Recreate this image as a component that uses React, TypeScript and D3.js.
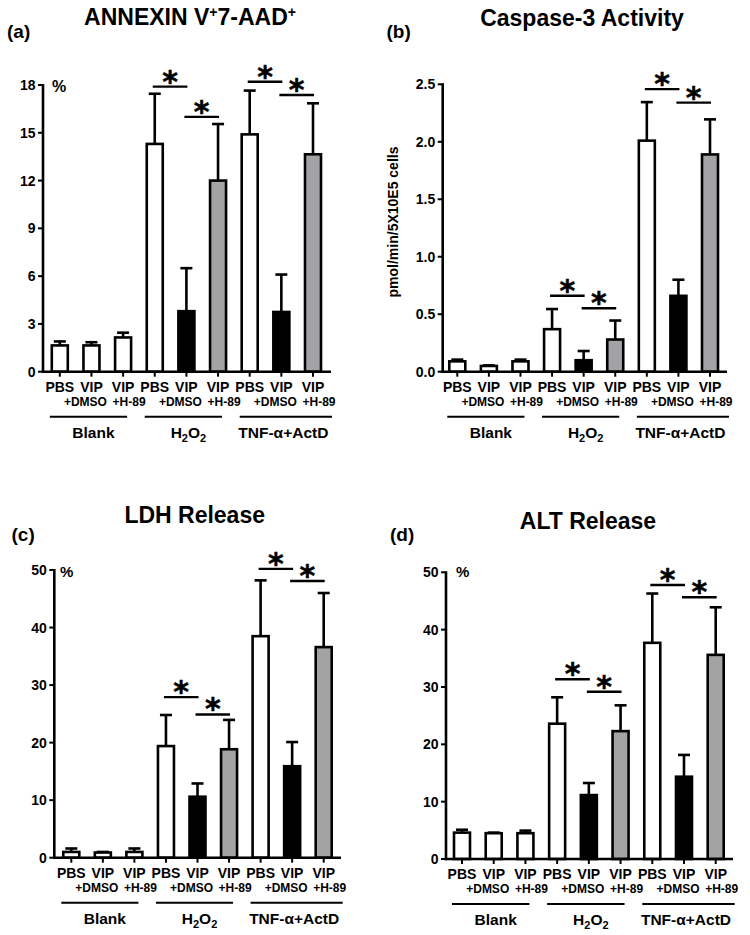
import React from 'react';
import * as d3 from 'd3';

// ---------- DATA ----------
const catLine1 = ['PBS', 'VIP', 'VIP', 'PBS', 'VIP', 'VIP', 'PBS', 'VIP', 'VIP'];
const catLine2 = ['', '+DMSO', '+H-89', '', '+DMSO', '+H-89', '', '+DMSO', '+H-89'];
const groupNames = ['Blank', 'H2O2', 'TNF-α+ActD'];
const treatment = ['PBS', 'VIP+DMSO', 'VIP+H-89', 'PBS', 'VIP+DMSO', 'VIP+H-89', 'PBS', 'VIP+DMSO', 'VIP+H-89'];
const groupOf = [0, 0, 0, 1, 1, 1, 2, 2, 2];

const annexinMean = [1.65, 1.65, 2.15, 14.3, 3.8, 12.0, 14.9, 3.75, 13.65];
const annexinErr = [0.25, 0.2, 0.3, 3.15, 2.7, 3.55, 2.75, 2.35, 3.2];
const caspaseMean = [0.09, 0.05, 0.09, 0.37, 0.1, 0.28, 2.01, 0.66, 1.89];
const caspaseErr = [0.015, 0.005, 0.015, 0.175, 0.08, 0.165, 0.335, 0.14, 0.305];
const ldhMean = [1.0, 0.9, 1.0, 19.4, 10.6, 18.85, 38.5, 15.9, 36.6];
const ldhErr = [0.6, 0.1, 0.6, 5.4, 2.3, 5.1, 9.7, 4.2, 9.4];
const altMean = [4.6, 4.5, 4.5, 23.6, 11.15, 22.3, 37.7, 14.35, 35.6];
const altErr = [0.5, 0.1, 0.45, 4.6, 2.1, 4.5, 8.6, 3.8, 8.3];

// significance brackets: [from index, to index, height in data units]
const annexinSig = [[3, 4, 17.9], [4, 5, 16.0], [6, 7, 18.2], [7, 8, 17.37]];
const caspaseSig = [[3, 4, 0.661], [4, 5, 0.552], [6, 7, 2.458], [7, 8, 2.341]];
const ldhSig = [[3, 4, 27.9], [4, 5, 24.9], [6, 7, 50.2], [7, 8, 48.1]];
const altSig = [[3, 4, 31.34], [4, 5, 29.18], [6, 7, 47.78], [7, 8, 45.64]];

const annexinTicks = [0, 3, 6, 9, 12, 15, 18];
const caspaseTicks = [0, 0.5, 1.0, 1.5, 2.0, 2.5];
const percentTicks = [0, 10, 20, 30, 40, 50];

// ---------- STYLE ----------
const FONT = '"Liberation Sans", Arial, sans-serif';
const STAR_FONT = '"DejaVu Sans", sans-serif';
const GRAY = '#a3a3a6';
const SW = 2.6;

function fillFor(i: number) {
  if (groupOf[i] === 0) return '#ffffff';
  if (treatment[i] === 'VIP+DMSO') return '#000000';
  if (treatment[i] === 'VIP+H-89') return GRAY;
  return '#ffffff';
}

type PanelCfg = {
  tag: string;
  title: React.ReactNode;
  titleX: number; titleY: number;
  tagX: number; tagY: number;
  axisX: number; y0: number; yTopPx: number; yMax: number;
  firstC: number; lastC: number; axisEnd: number;
  ticks: number[]; fmt: (v: number) => string;
  mean: number[]; err: number[]; sig: number[][];
  pct?: { x: number; y: number; size: number };
  yLabel?: { x: number; y: number; text: string };
};

function Panel({ c }: { c: PanelCfg }) {
  const y = d3.scaleLinear().domain([0, c.yMax]).range([c.y0, c.yTopPx]);
  const x = d3.scalePoint<number>().domain(d3.range(9)).range([c.firstC, c.lastC]).padding(0);
  const bw = 16;
  const cap = 12;
  const groupIdx = [0, 1, 2];
  return (
    <g>
      <text x={c.titleX} y={c.titleY} textAnchor="middle" fontFamily={FONT} fontWeight="bold" fontSize={23}>{c.title}</text>
      <text x={c.tagX} y={c.tagY} fontFamily={FONT} fontWeight="bold" fontSize={19}>{c.tag}</text>
      {c.pct && (
        <text x={c.pct.x} y={c.pct.y} fontFamily={FONT} fontWeight="bold" fontSize={c.pct.size}>%</text>
      )}
      {c.yLabel && (
        <text transform={`translate(${c.yLabel.x},${c.yLabel.y}) rotate(-90)`} textAnchor="middle" fontFamily={FONT} fontWeight="bold" fontSize={14}>{c.yLabel.text}</text>
      )}
      {/* error bars (upward only) */}
      {c.mean.map((m, i) => (
        <g key={'e' + i}>
          <line x1={x(i)} x2={x(i)} y1={y(m)} y2={y(m + c.err[i])} stroke="#000" strokeWidth={SW} />
          <line x1={(x(i) as number) - cap / 2} x2={(x(i) as number) + cap / 2} y1={y(m + c.err[i])} y2={y(m + c.err[i])} stroke="#000" strokeWidth={SW} />
        </g>
      ))}
      {/* bars */}
      {c.mean.map((m, i) => (
        <rect key={'b' + i} x={(x(i) as number) - bw / 2} y={y(m)} width={bw} height={c.y0 - y(m)} fill={fillFor(i)} stroke="#000" strokeWidth={SW} />
      ))}
      {/* y axis */}
      <line x1={c.axisX} x2={c.axisX} y1={c.y0 + SW / 2} y2={y(c.yMax) - 1} stroke="#000" strokeWidth={SW} />
      {c.ticks.map((t) => (
        <g key={'t' + t}>
          <line x1={c.axisX - 5} x2={c.axisX} y1={y(t)} y2={y(t)} stroke="#000" strokeWidth={2} />
          <text x={c.axisX - 7.5} y={y(t)} dy="0.36em" textAnchor="end" fontFamily={FONT} fontWeight="bold" fontSize={14}>{c.fmt(t)}</text>
        </g>
      ))}
      {/* x axis */}
      <line x1={c.axisX - SW / 2} x2={c.axisEnd} y1={c.y0} y2={c.y0} stroke="#000" strokeWidth={SW} />
      {c.mean.map((_, i) => (
        <line key={'xt' + i} x1={x(i)} x2={x(i)} y1={c.y0} y2={c.y0 + 5} stroke="#000" strokeWidth={2} />
      ))}
      {catLine1.map((l, i) => (
        <g key={'xl' + i}>
          <text x={x(i)} y={c.y0 + 20} textAnchor="middle" fontFamily={FONT} fontWeight="bold" fontSize={14}>{l}</text>
          {catLine2[i] && (
            <text x={(x(i) as number) + (catLine2[i] === '+DMSO' ? -6 : 6)} y={c.y0 + 34} textAnchor="middle" fontFamily={FONT} fontWeight="bold" fontSize={12}>{catLine2[i]}</text>
          )}
        </g>
      ))}
      {/* group lines and labels */}
      {groupIdx.map((g) => {
        const idx = d3.range(9).filter((i) => groupOf[i] === g);
        const x1 = (x(idx[0]) as number) - 10;
        const x2 = (x(idx[idx.length - 1]) as number) + (g === 2 ? 19 : 4);
        const cx = d3.mean(idx.map((i) => x(i) as number)) as number;
        return (
          <g key={'g' + g}>
            <line x1={x1} x2={x2} y1={c.y0 + 45} y2={c.y0 + 45} stroke="#000" strokeWidth={2} />
            <text x={cx + 2} y={c.y0 + 66} textAnchor="middle" fontFamily={FONT} fontWeight="bold" fontSize={15.5}>
              {groupNames[g] === 'H2O2' ? (
                <>
                  H<tspan fontSize={11} dy={4}>2</tspan><tspan dy={-4}>O</tspan><tspan fontSize={11} dy={4}>2</tspan>
                </>
              ) : groupNames[g]}
            </text>
          </g>
        );
      })}
      {/* significance brackets */}
      {c.sig.map(([a, b, h], k) => {
        const xa = (x(a) as number) - 2;
        const xb = (x(b) as number) + 1;
        return (
          <g key={'s' + k}>
            <line x1={xa} x2={xb} y1={y(h)} y2={y(h)} stroke="#000" strokeWidth={2.4} />
            <text x={(xa + xb) / 2} y={y(h) + 5} textAnchor="middle" fontFamily={STAR_FONT} fontWeight="bold" fontSize={30} stroke="#000" strokeWidth={0.5}>*</text>
          </g>
        );
      })}
    </g>
  );
}

const sup = (s: string) => <tspan fontSize={14} dy={-8}>{s}</tspan>;

export default function App() {
  const panels: PanelCfg[] = [
    {
      tag: '(a)',
      title: (<>ANNEXIN V{sup('+')}<tspan dy={8}>7-AAD</tspan>{sup('+')}</>),
      titleX: 190, titleY: 25, tagX: 7, tagY: 38,
      axisX: 43, y0: 371.7, yTopPx: 85, yMax: 18,
      firstC: 59.8, lastC: 313, axisEnd: 331,
      ticks: annexinTicks, fmt: (v) => String(v),
      mean: annexinMean, err: annexinErr, sig: annexinSig,
      pct: { x: 52, y: 92, size: 16 },
    },
    {
      tag: '(b)',
      title: 'Caspase-3 Activity',
      titleX: 582, titleY: 25.5, tagX: 386.5, tagY: 38,
      axisX: 442.7, y0: 371.7, yTopPx: 84.3, yMax: 2.5,
      firstC: 457.3, lastC: 710, axisEnd: 727,
      ticks: caspaseTicks, fmt: (v) => v.toFixed(1),
      mean: caspaseMean, err: caspaseErr, sig: caspaseSig,
      yLabel: { x: 398, y: 222, text: 'pmol/min/5X10E5 cells' },
    },
    {
      tag: '(c)',
      title: 'LDH Release',
      titleX: 194.7, titleY: 522.7, tagX: 11.5, tagY: 541,
      axisX: 54.3, y0: 857.7, yTopPx: 570, yMax: 50,
      firstC: 71.3, lastC: 323.7, axisEnd: 341,
      ticks: percentTicks, fmt: (v) => String(v),
      mean: ldhMean, err: ldhErr, sig: ldhSig,
      pct: { x: 60, y: 577, size: 15 },
    },
    {
      tag: '(d)',
      title: 'ALT Release',
      titleX: 588, titleY: 529.3, tagX: 390, tagY: 540.5,
      axisX: 446, y0: 859, yTopPx: 572.3, yMax: 50,
      firstC: 462, lastC: 715.7, axisEnd: 733,
      ticks: percentTicks, fmt: (v) => String(v),
      mean: altMean, err: altErr, sig: altSig,
      pct: { x: 456, y: 577, size: 15 },
    },
  ];
  return (
    <svg width={750} height={935} style={{ position: 'absolute', left: 0, top: 0, background: '#fff' }}>
      <rect width={750} height={935} fill="#fff" />
      {panels.map((p, i) => <Panel key={i} c={p} />)}
    </svg>
  );
}
